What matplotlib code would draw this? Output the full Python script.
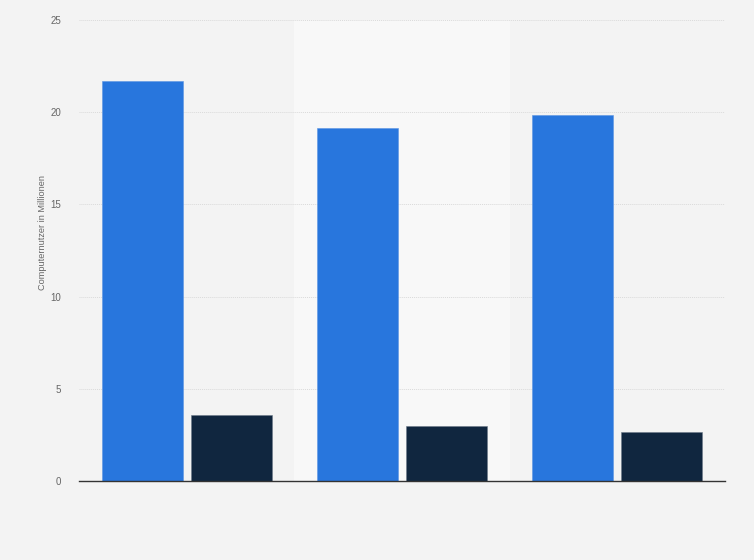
import matplotlib
matplotlib.use("Agg")
import matplotlib.pyplot as plt
import numpy as np

plt.rcParams["font.family"] = ["Liberation Sans", "DejaVu Sans"]

categories = ["1", "2", "3"]
series_a = [21.7, 19.15, 19.85]
series_b = [3.6, 2.97, 2.65]
yticks = [0, 5, 10, 15, 20, 25]
ylabel = "Computernutzer in Millionen"

bg = "#f3f3f3"
fig = plt.figure(figsize=(7.54, 5.6), dpi=100, facecolor=bg)
ax = fig.add_axes([79/754, 1-481/560, 646/754, 461/560])
ax.set_facecolor(bg)

x = np.arange(len(categories))
w = 0.376
off = 0.207
ax.axvspan(0.5, 1.5, color="#f8f8f8", zorder=0, lw=0)
ax.bar(x - off, series_a, width=w, color="#2876dd", zorder=3, edgecolor="#5b95e3", linewidth=0.4)
ax.bar(x + off, series_b, width=w, color="#10263f", zorder=3, edgecolor="#6d7a88", linewidth=0.4)

ax.set_xlim(-0.5, 2.5)
ax.set_ylim(0, 25)
ax.set_yticks(yticks)
ax.set_yticklabels([str(t) for t in yticks], color="#666666", fontsize=7)
ax.tick_params(axis="y", length=0, pad=13)
ax.set_xticks([])
for t in yticks[1:]:
    ax.axhline(t, color="#dadada", linestyle=(0, (1, 1)), linewidth=0.7, zorder=1)
ax.axhline(0, color="#333333", linewidth=1.0, zorder=4, clip_on=False)
for s in ax.spines.values():
    s.set_visible(False)
ax.set_ylabel(ylabel, color="#666666", fontsize=6.6, labelpad=2)
ax.yaxis.label.set_y(0.538)

fig.savefig("out.png", dpi=100, facecolor=bg)
